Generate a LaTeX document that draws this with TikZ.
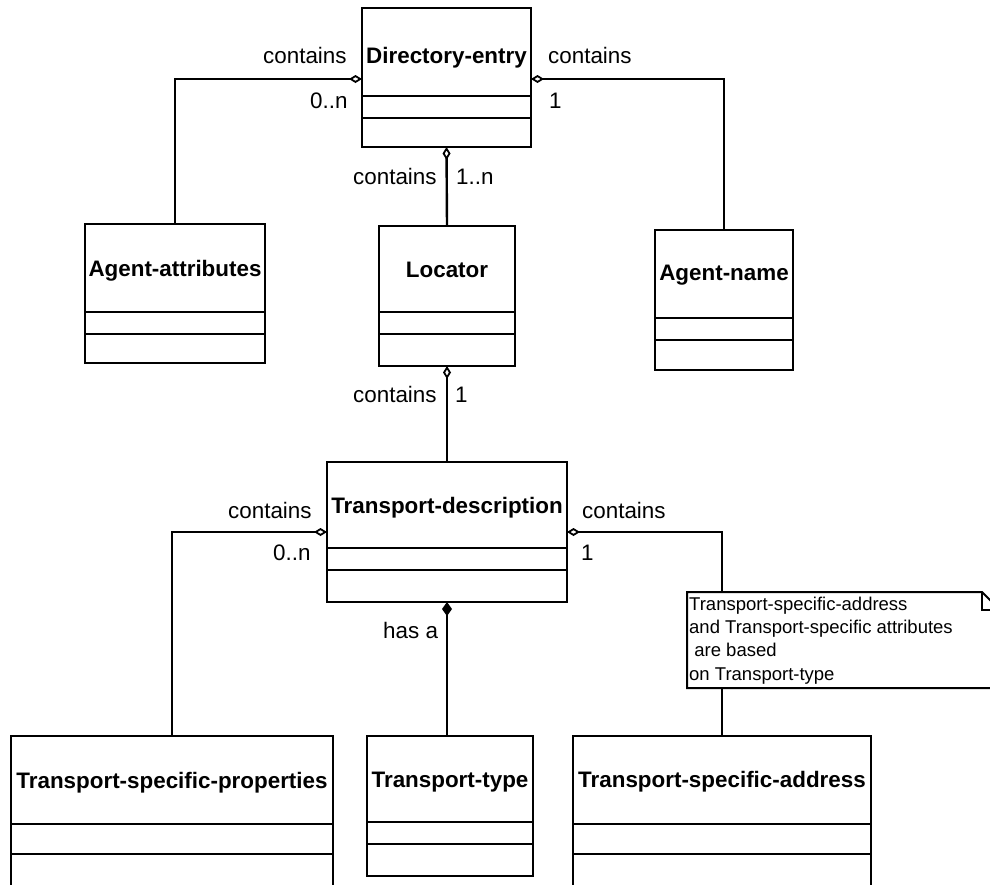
\documentclass[tikz,border=0pt]{standalone}
\usepackage{fontspec}
\setmainfont{Liberation Sans}
\usetikzlibrary{arrows.meta}

\tikzset{
  boxline/.style={line width=2.4pt},
  classbox/.style={draw, line width=2.4pt, rectangle, inner sep=0pt, outer sep=0pt, anchor=north west},
  classtitle/.style={font=\fontsize{22.4}{26}\selectfont\bfseries, anchor=base, inner sep=0pt},
  role/.style={font=\fontsize{22.4}{26}\selectfont, anchor=base west, inner sep=0pt},
  notetext/.style={font=\fontsize{18.5}{23.3}\selectfont, align=left, anchor=north west, inner sep=0pt},
  link/.style={line width=2.4pt},
  agg/.style={link, arrows={Diamond[open, length=13pt, width=8pt, line width=1.8pt]-}},
  comp/.style={link, arrows={Diamond[length=14pt, width=10pt]-}},
}

% class box: name, left, top, right, bottom, divider 1, divider 2, title baseline, title
\newcommand{\umlclass}[9]{%
  \node[classbox, minimum width={#4pt-#2pt}, minimum height={#5pt-#3pt}] (#1) at (#2,#3) {};
  \draw[boxline] (#1.west |- 0,#6) -- (#1.east |- 0,#6);
  \draw[boxline] (#1.west |- 0,#7) -- (#1.east |- 0,#7);
  \node[classtitle] (#1-title) at (#1.center |- 0,#8) {#9};
}

\begin{document}
\begin{tikzpicture}[x=1pt, y=-1pt]
\useasboundingbox (0,0) rectangle (990,884);

% classes
\umlclass{de}{362}{8}{531}{147}{96}{118}{63}{Directory-entry}
\umlclass{aa}{85}{224}{265}{363}{312}{334}{276}{Agent-attributes}
\umlclass{loc}{379}{226}{515}{366}{312}{334}{277}{Locator}
\umlclass{an}{655}{230}{793}{370}{318}{340}{280}{Agent-name}
\umlclass{td}{327}{462}{567}{602}{548}{570}{513}{Transport-description}
\umlclass{tsp}{11}{736}{333}{900}{824}{854}{788}{Transport-specific-properties}
\umlclass{tt}{367}{736}{533}{876}{822}{844}{787}{Transport-type}
\umlclass{tsa}{573}{736}{871}{900}{824}{854}{787}{Transport-specific-address}

% aggregations and composition
\draw[agg] (de.west |- 0,79) -| (aa.north);
\draw[agg] (de.east |- 0,79) -| (an.north);
\draw[agg] (de.south) -- (loc.north);
\draw[agg] (loc.south) -- (td.north);
\draw[agg] (td.west |- 0,532) -| (tsp.north);
\draw[agg] (td.east |- 0,532) -| (tsa.north);
\draw[comp] (td.south) -- (td.south |- tt.north);

% role names and multiplicities
\node[role] (r1) at (263,63) {contains};
\node[role] (m1) at (310,108) {0..n};
\node[role] (r2) at (548,63) {contains};
\node[role] (m2) at (549,108) {1};
\node[role] (r3) at (353,184) {contains};
\node[role] (m3) at (456,184) {1..n};
\node[role] (r4) at (353,402) {contains};
\node[role] (m4) at (455,402) {1};
\node[role] (r5) at (228,518) {contains};
\node[role] (m5) at (273,560) {0..n};
\node[role] (r6) at (582,518) {contains};
\node[role] (m6) at (581,560) {1};
\node[role] (r7) at (383,638) {has a};

% note with folded corner
\path[fill=white, draw, line width=2pt] (687,592) -- (982,592) -- (1000,610) -- (1000,688) -- (687,688) -- cycle;
\draw[line width=2pt] (982,592) -- (982,610) -- (1000,610);
\node[notetext] (note) at (689,596.5) {Transport-specific-address\\and Transport-specific attributes\\\hspace*{0.28em}are based\\on Transport-type};
\end{tikzpicture}
\end{document}
